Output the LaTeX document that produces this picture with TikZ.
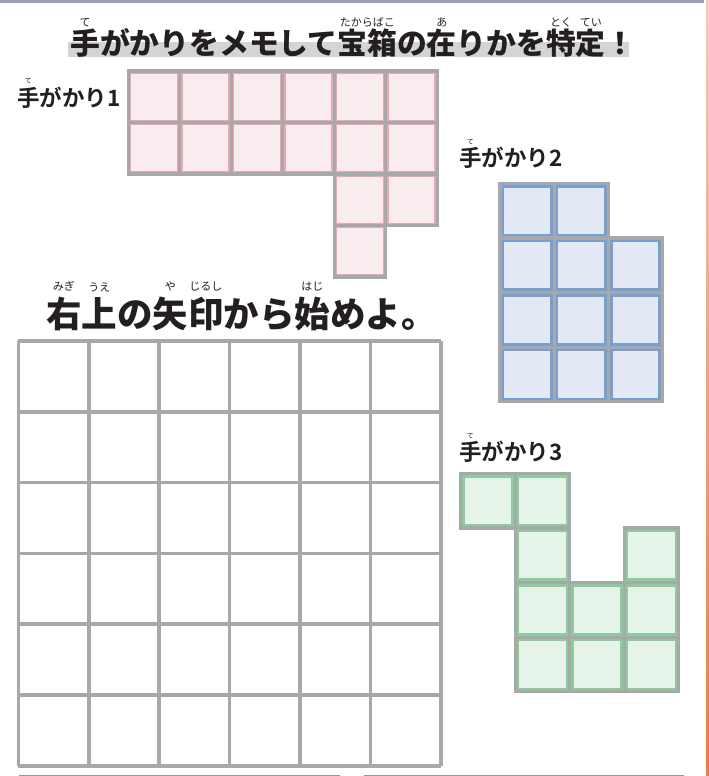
\documentclass[tikz,border=0pt]{standalone}
\usepackage{fontspec}
\newfontfamily\jpfont{Noto Sans CJK JP}
\newfontfamily\jpbold{Noto Sans CJK JP Bold}
\newfontfamily\jpheavy{Noto Sans CJK JP Black}

\definecolor{gridgray}{HTML}{A7A8AB}
\definecolor{inkblack}{HTML}{231F20}
\definecolor{barlight}{HTML}{D4D4D4}
\definecolor{pinkfill}{HTML}{F9ECEF}
\definecolor{pinkline}{HTML}{EBA6B2}
\definecolor{bluefill}{HTML}{E2E9F5}
\definecolor{blueline}{HTML}{77A0D2}
\definecolor{greenfill}{HTML}{E6F3E8}
\definecolor{greenline}{HTML}{8ECB9A}
\definecolor{topband}{HTML}{9B9DC9}
\definecolor{edgetop}{HTML}{F7C9BC}
\definecolor{edgebot}{HTML}{E57E3E}

% ruby over a base text
\newlength\rbgap
\newcommand\rbfont{\jpfont\fontsize{11}{11}\selectfont}
\newcommand\rb[2]{\leavevmode\setbox0\hbox{#1}\setbox2\hbox to \wd0{\hss\rbfont #2\hss}\ht2=0pt\dp2=0pt\raise\dimexpr\ht0+\rbgap\relax\copy2\kern-\wd0\box0}

\tikzset{
	pinkcell/.style={fill=pinkfill},
	bluecell/.style={fill=bluefill},
	greencell/.style={fill=greenfill},
	cellrim/.style={draw=gridgray, line width=3.2pt},
	clue/.style={anchor=base west, inner sep=0pt, text=inkblack, font=\jpbold\fontsize{22.5}{22.5}\selectfont},
}

\begin{document}
\begin{tikzpicture}[x=1pt, y=-1pt]
	\useasboundingbox (0,0) rectangle (709,776);

	% frame bits
	\fill[topband] (0,0) rectangle (704,3.2);
	\shade[top color=edgetop, bottom color=edgebot] (706.3,0) rectangle (709,776);
	\draw[gridgray!90!black, line width=1.4pt] (19,775.5) -- (340,775.5);
	\draw[gridgray!90!black, line width=1.4pt] (364,775.5) -- (684,775.5);

	% title
	\fill[barlight] (68,42.5) rectangle (629,57);
	\setlength\rbgap{3pt}
	\node (title) [anchor=base west, inner sep=0pt, text=inkblack, font=\jpheavy\fontsize{29.8}{29.8}\selectfont]
		at (70,55) {\rb{手}{て}がかりをメモして\rb{宝箱}{たからばこ}の\rb{在}{あ}りかを\rb{特}{とく}\rb{定}{てい}！};

	% clue 1
	\renewcommand\rbfont{\jpfont\fontsize{7}{7}\selectfont}
	\setlength\rbgap{3pt}
	\node (clueA) [clue] at (17,106) {\rb{手}{て}がかり1};
	\foreach \c/\r in {0/0,1/0,2/0,3/0,4/0,5/0,0/1,1/1,2/1,3/1,4/1,5/1,4/2,5/2,4/3} {
		\fill[pinkcell] (128.3+51.5*\c,71+51.5*\r) rectangle ++(51.5,51.5);
		\draw[pinkline, line width=1.3pt] (128.3+51.5*\c+2.3,71+51.5*\r+2.3) rectangle ++(46.9,46.9);
		\draw[cellrim] (128.3+51.5*\c,71+51.5*\r) rectangle ++(51.5,51.5);
	}

	% clue 2
	\node (clueB) [clue] at (459,166.5) {\rb{手}{て}がかり2};
	\foreach \c/\r in {0/0,1/0,0/1,1/1,2/1,0/2,1/2,2/2,0/3,1/3,2/3} {
		\fill[bluecell] (500+54.2*\c,183.3+54.6*\r) rectangle ++(54.2,54.6);
		\draw[blueline, line width=2.6pt] (500+54.2*\c+2.9,183.3+54.6*\r+2.9) rectangle ++(48.4,48.8);
		\draw[cellrim] (500+54.2*\c,183.3+54.6*\r) rectangle ++(54.2,54.6);
	}

	% clue 3
	\node (clueC) [clue] at (459,460.5) {\rb{手}{て}がかり3};
	\foreach \c/\r in {0/0,1/0,1/1,3/1,1/2,2/2,3/2,1/3,2/3,3/3} {
		\fill[greencell] (460.7+54.5*\c,473.3+54.6*\r) rectangle ++(54.5,54.6);
		\draw[greenline, line width=2.6pt] (460.7+54.5*\c+2.9,473.3+54.6*\r+2.9) rectangle ++(48.7,48.8);
		\draw[cellrim] (460.7+54.5*\c,473.3+54.6*\r) rectangle ++(54.5,54.6);
	}

	% start hint
	\renewcommand\rbfont{\jpfont\fontsize{11}{11}\selectfont}
	\setlength\rbgap{6pt}
	\node (hint) [anchor=base west, inner sep=0pt, text=inkblack, font=\jpheavy\fontsize{35.5}{35.5}\selectfont]
		at (46,327) {\rb{右}{みぎ}\rb{上}{うえ}の\rb{矢}{や}\rb{印}{じるし}から\rb{始}{はじ}めよ。};

	% answer grid
	\foreach \i in {0,...,6} {
		\draw[gridgray, line width=3.6pt] (18.3+70.45*\i,341) -- (18.3+70.45*\i,766);
		\draw[gridgray, line width=3.6pt] (18.3,341+70.8*\i) -- (441,341+70.8*\i);
	}
\end{tikzpicture}
\end{document}
